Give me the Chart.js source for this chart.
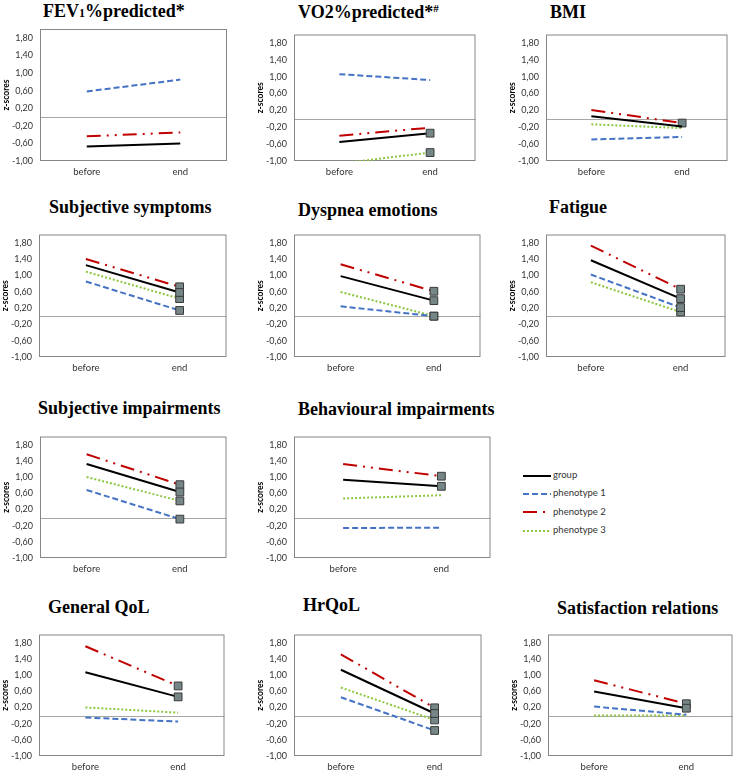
<!DOCTYPE html>
<html>
<head>
<meta charset="utf-8">
<script src="https://cdn.jsdelivr.net/npm/chart.js@4"></script>
<style>
  body { margin: 0; background: #fff; }
  #page { position: relative; width: 739px; height: 770px; overflow: hidden; background: #fff; }
  .ttl { position: absolute; font: bold 18px "Liberation Serif", "Times New Roman", serif; color: #000; white-space: nowrap; line-height: 20px; }
  .ttl .sm { font-size: 12px; }
  .ttl sup { font-size: 11px; vertical-align: 6px; line-height: 0; }
  canvas { position: absolute; }
  .lg { position: absolute; font: 9.5px Lato, sans-serif; color: #333; white-space: nowrap; line-height: 12px; }
  .lg svg { vertical-align: middle; margin-right: 2px; }
</style>
</head>
<body>
<div id="page"></div>
<script>
// datos de los paneles (z-scores, antes / final)
const categories = ['before', 'end'];
const yTicks = [-1, -0.6, -0.2, 0.2, 0.6, 1, 1.4, 1.8];
const seriesNames = ['group', 'phenotype 1', 'phenotype 2', 'phenotype 3'];

const panelTitles = [
  'FEV<span class="sm">1</span>%predicted*',
  'VO2%predicted*<sup>#</sup>',
  'BMI',
  'Subjective symptoms',
  'Dyspnea emotions',
  'Fatigue',
  'Subjective impairments',
  'Behavioural impairments',
  'General QoL',
  'HrQoL',
  'Satisfaction relations'
];

const groupValues = [
  [-0.67, -0.60], [-0.55, -0.34], [0.06, -0.18], [1.25, 0.58], [0.98, 0.38], [1.37, 0.43],
  [1.32, 0.63], [0.93, 0.77], [1.07, 0.46], [1.13, 0.05], [0.59, 0.18]
];
const phenotype1Values = [
  [0.58, 0.85], [1.06, 0.92], [-0.49, -0.43], [0.85, 0.14], [0.24, 0.00], [1.02, 0.21],
  [0.68, -0.04], [-0.26, -0.25], [-0.05, -0.15], [0.45, -0.37], [0.22, 0.02]
];
const phenotype2Values = [
  [-0.44, -0.35], [-0.40, -0.21], [0.21, -0.10], [1.40, 0.72], [1.27, 0.61], [1.73, 0.66],
  [1.56, 0.81], [1.32, 1.02], [1.71, 0.73], [1.51, 0.19], [0.87, 0.29]
];
const phenotype3Values = [
  [null, null], [-1.06, -0.80], [-0.13, -0.22], [1.09, 0.43], [0.59, 0.00], [0.83, 0.10],
  [1.00, 0.41], [0.47, 0.55], [0.20, 0.07], [0.69, -0.11], [0.00, 0.00]
];
// cambio significativo al final: [group, phenotype 1, phenotype 2, phenotype 3]
const endMarkers = [
  [0, 0, 0, 0], [1, 0, 0, 1], [0, 0, 1, 0], [1, 1, 1, 1], [1, 1, 1, 1], [1, 1, 1, 1],
  [1, 1, 1, 1], [1, 0, 1, 0], [1, 0, 1, 0], [1, 1, 1, 1], [1, 0, 1, 0]
];

// posiciones del área de trazado [izq, arriba, der, abajo]
const boxes = [
  [40, 29, 226, 160], [294, 29, 480, 160], [546, 29, 732, 160],
  [39, 229, 231, 356], [294, 229, 485, 356], [546, 229, 730, 356],
  [40, 431, 231, 557], [294, 431, 495, 557],
  [39, 629, 229, 755], [294, 629, 486, 755], [548, 629, 737, 755]
];
const titlePos = [
  [43, 11], [298, 12], [550, 12],
  [49, 207], [298, 210], [549, 207],
  [38, 408], [298, 409],
  [48, 607], [303, 605], [557, 608]
];

const seriesStyle = [
  { color: '#000000', dash: [] },
  { color: '#4472c4', dash: [6, 3] },
  { color: '#c00000', dash: [14, 6, 2, 6, 2, 6] },
  { color: '#8cc63e', dash: [2, 2] }
];

const AXIS_W = 40, AXIS_H = 20;
const page = document.getElementById('page');

Chart.defaults.font.family = 'Lato, "Liberation Sans", sans-serif';
Chart.defaults.font.size = 9;
Chart.defaults.color = '#333333';

// marco gris y línea del cero
const framePlugin = {
  id: 'frame',
  beforeDatasetsDraw(chart) {
    const { ctx, chartArea: a, scales: { y } } = chart;
    const zy = Math.round(y.getPixelForValue(0)) + 0.5;
    ctx.save();
    ctx.lineWidth = 1;
    ctx.strokeStyle = '#a6a6a6';
    ctx.beginPath();
    ctx.moveTo(a.left, zy);
    ctx.lineTo(a.right, zy);
    ctx.stroke();
    ctx.strokeStyle = '#868686';
    ctx.strokeRect(a.left + 0.5, a.top + 0.5, a.right - a.left - 1, a.bottom - a.top - 1);
    ctx.restore();
  }
};

boxes.forEach((b, i) => {
  const t = document.createElement('div');
  t.className = 'ttl';
  t.innerHTML = panelTitles[i];
  t.style.left = titlePos[i][0] + 'px';
  t.style.top = (titlePos[i][1] - 10) + 'px';
  page.appendChild(t);

  const canvas = document.createElement('canvas');
  canvas.width = b[2] - b[0] + AXIS_W + 2;
  canvas.height = b[3] - b[1] + AXIS_H + 2;
  canvas.style.left = (b[0] - AXIS_W) + 'px';
  canvas.style.top = (b[1] - 1) + 'px';
  page.appendChild(canvas);

  const values = [groupValues[i], phenotype1Values[i], phenotype2Values[i], phenotype3Values[i]];

  new Chart(canvas, {
    type: 'line',
    data: {
      labels: categories,
      datasets: values.map((v, k) => ({
        label: seriesNames[k],
        data: v,
        borderColor: seriesStyle[k].color,
        borderWidth: 2,
        borderDash: seriesStyle[k].dash,
        fill: false,
        tension: 0,
        pointStyle: 'rect',
        pointRadius: v.map((_, j) => (j === 1 && endMarkers[i][k]) ? 5.5 : 0),
        pointBackgroundColor: '#768585',
        pointBorderColor: '#3a3a3a',
        pointBorderWidth: 1
      }))
    },
    options: {
      responsive: false,
      animation: false,
      events: [],
      layout: { padding: { top: 1, right: 1, left: 0, bottom: 0 } },
      plugins: { legend: { display: false }, tooltip: { enabled: false } },
      scales: {
        x: {
          offset: true,
          grid: { display: false, drawTicks: false },
          border: { display: false },
          ticks: { padding: 5, maxRotation: 0, font: { size: 9.5 } },
          afterFit: s => { s.height = AXIS_H; s.paddingLeft = 0; s.paddingRight = 0; }
        },
        y: {
          min: -1,
          max: 2,
          grid: { display: false, drawTicks: false },
          border: { display: false },
          afterBuildTicks: s => { s.ticks = yTicks.map(v => ({ value: v })); },
          ticks: { padding: 7, callback: v => Number(v).toFixed(2).replace('.', ',') },
          title: { display: true, text: 'z-scores', color: '#000', font: { size: 8.5, weight: 'bold' }, padding: { top: 1, bottom: 0 } },
          afterFit: s => { s.width = AXIS_W; s.paddingTop = 0; s.paddingBottom = 0; }
        }
      }
    },
    plugins: [framePlugin]
  });
});

// leyenda
seriesNames.forEach((name, k) => {
  const row = document.createElement('div');
  row.className = 'lg';
  row.style.left = '523px';
  row.style.top = (475 + k * 18.4 - 6) + 'px';
  const st = seriesStyle[k];
  row.innerHTML = '<svg width="28" height="4"><line x1="0" y1="2" x2="28" y2="2" stroke="' + st.color +
    '" stroke-width="2" stroke-dasharray="' + (st.dash.length ? st.dash.join(' ') : 'none') + '"/></svg>' + name;
  page.appendChild(row);
});
</script>
</body>
</html>
